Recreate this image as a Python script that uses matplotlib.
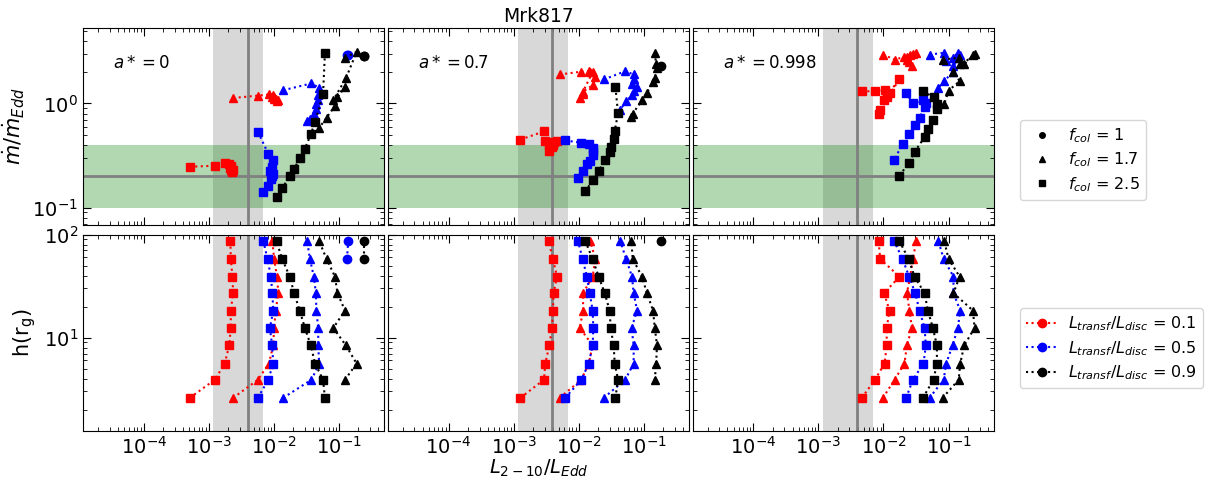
import numpy as np
import matplotlib
matplotlib.use('Agg')
import matplotlib.pyplot as plt
from matplotlib.lines import Line2D

nan = np.nan

# corona heights (r_g), same grid for every run
h_rg = [2.6, 3.9, 5.6, 8.4, 12.4, 18.3, 27, 39, 58, 86]

spins = ['0', '0.7', '0.998']
lt_ratios = [0.1, 0.5, 0.9]
lt_colors = ['red', 'blue', 'black']

# L_2-10/L_Edd and mdot for each spin; rows are L_transf/L_disc = 0.1, 0.5, 0.9
# f_col = 2.5 (squares)
a0_sq_L = [[5.1e-4, 1.24e-3, 1.76e-3, 2.06e-3, 2.18e-3, 2.18e-3, 2.37e-3, 2.31e-3, 2.18e-3, 2.15e-3],
           [5.7e-3, 8.2e-3, 9.8e-3, 9.4e-3, 8.7e-3, 9.8e-3, 9.5e-3, 9.0e-3, 8.0e-3, 6.9e-3],
           [6.1e-2, 5.7e-2, 4.3e-2, 3.7e-2, 3.0e-2, 2.5e-2, 2.05e-2, 1.76e-2, 1.34e-2, 1.10e-2]]
a0_sq_mdot = [[0.247, 0.253, 0.27, 0.26, 0.25, 0.24, 0.23, 0.22, 0.23, 0.24],
              [0.535, 0.33, 0.29, 0.245, 0.225, 0.21, 0.2, 0.187, 0.16, 0.141],
              [3.06, 1.22, 0.667, 0.505, 0.368, 0.297, 0.236, 0.201, 0.153, 0.126]]
a07_sq_L = [[1.27e-3, 2.93e-3, 3.07e-3, 3.54e-3, 3.89e-3, 4.03e-3, 4.12e-3, 4.64e-3, 4.03e-3, 3.45e-3],
            [6.2e-3, 1.1e-2, 1.43e-2, 1.64e-2, 1.68e-2, 1.64e-2, 1.48e-2, 1.34e-2, 1.15e-2, 9.8e-3],
            [3.67e-2, 4.03e-2, 3.58e-2, 3.45e-2, 3.1e-2, 3.0e-2, 2.51e-2, 2.03e-2, 1.64e-2, 1.27e-2]]
a07_sq_mdot = [[0.45, 0.54, 0.44, 0.40, 0.38, 0.42, 0.43, 0.44, 0.40, 0.35],
               [0.442, 0.42, 0.405, 0.376, 0.35, 0.32, 0.28, 0.26, 0.224, 0.194],
               [1.43, 0.81, 0.543, 0.46, 0.381, 0.344, 0.284, 0.224, 0.183, 0.144]]
a0998_sq_L = [[4.64e-3, 7.4e-3, 1.04e-2, 1.12e-2, 1.12e-2, 1.24e-2, 1.02e-2, 1.76e-2, 8.9e-3, 8.4e-3],
              [2.23e-2, 2.83e-2, 4.12e-2, 4.48e-2, 4.28e-2, 3.58e-2, 3.07e-2, 2.48e-2, 1.96e-2, 1.46e-2],
              [4.03e-2, 5.87e-2, 6.62e-2, 6.62e-2, 5.74e-2, 4.81e-2, 4.28e-2, 3.0e-2, 2.43e-2, 1.76e-2]]
a0998_sq_mdot = [[1.31, 1.31, 1.36, 1.22, 1.15, 1.27, 1.09, 1.72, 0.857, 0.796],
                 [1.27, 1.0, 1.07, 1.0, 0.92, 0.73, 0.615, 0.505, 0.405, 0.29],
                 [1.31, 1.15, 0.98, 0.876, 0.687, 0.563, 0.476, 0.342, 0.27, 0.201]]

# f_col = 1.7 (triangles)
a0_tri_L = [[2.37e-3, 5.7e-3, 8.4e-3, 9.8e-3, 1.01e-2, 1.07e-2, 1.17e-2, 1.12e-2, 1.01e-2, 9.5e-3],
            [1.39e-2, 3.79e-2, 4.98e-2, 4.81e-2, 4.81e-2, 4.5e-2, 4.43e-2, 4.12e-2, 3.58e-2, 3.26e-2],
            [nan, 0.124, 0.187, 0.128, 8.2e-2, 0.124, 9.5e-2, 8.7e-2, 6.45e-2, 4.98e-2]]
a0_tri_mdot = [[1.13, 1.19, 1.22, 1.2, 1.15, 1.1, 1.08, 1.05, 1.1, 1.15],
               [1.34, 1.56, 1.41, 1.2, 1.08, 0.98, 0.88, 0.80, 0.71, 0.68],
               [nan, 2.75, 3.13, 1.74, 1.08, 1.44, 1.15, 0.95, 0.73, 0.585]]
a07_tri_L = [[5.1e-3, 1.1e-2, 1.43e-2, 1.64e-2, 1.04e-2, 1.17e-2, 1.17e-2, 1.64e-2, 1.8e-2, 1.51e-2],
             [2.43e-2, 5.2e-2, 7.0e-2, 7.0e-2, 6.5e-2, 7.9e-2, 7.0e-2, 6.6e-2, 5.35e-2, 4.38e-2],
             [nan, 0.148, 0.155, 0.160, 0.148, 0.139, 0.112, 0.094, 0.0677, 0.0646]]
a07_tri_mdot = [[1.9, 2.02, 2.05, 2.0, 1.13, 1.22, 1.3, 1.5, 1.78, 2.0],
                [1.7, 2.04, 1.9, 1.7, 1.55, 1.45, 1.31, 1.2, 1.05, 0.875],
                [nan, 3.06, 2.37, 2.2, 1.76, 1.6, 1.27, 1.07, 0.8, 0.74]]
a0998_tri_L = [[9.8e-3, 1.48e-2, 2.1e-2, 2.29e-2, 2.73e-2, 2.51e-2, 2.29e-2, 2.57e-2, 2.83e-2, 3.19e-2],
               [5.1e-2, 8.4e-2, 9.2e-2, 0.115, 0.139, 0.151, 0.119, 0.119, 8.4e-2, 7.0e-2],
               [8.1e-2, 0.143, 0.151, 0.174, 0.251, 0.237, 0.119, 0.148, 0.1, 8.6e-2]]
a0998_tri_mdot = [[2.95, 2.64, 2.8, 2.6, 2.3, 2.5, 2.8, 2.9, 3.0, 3.06],
                  [2.95, 3.06, 2.55, 2.74, 3.06, 2.9, 2.28, 2.0, 1.64, 1.41],
                  [2.64, 2.74, 2.4, 2.37, 3.0, 2.9, 2.0, 1.64, 1.33, 0.99]]

# f_col = 1 (circles), only the largest heights stay inside the axes
a0_circ_L = [[nan] * 10,
             [nan] * 8 + [0.133, 0.139],
             [nan] * 8 + [0.243, 0.243]]
a0_circ_mdot = [[nan] * 10,
                [nan] * 8 + [2.9, 2.95],
                [nan] * 8 + [2.85, 2.85]]
a07_circ_L = [[nan] * 10, [nan] * 10, [nan] * 9 + [0.187]]
a07_circ_mdot = [[nan] * 10, [nan] * 10, [nan] * 9 + [2.28]]
a0998_circ_L = [[nan] * 10, [nan] * 10, [nan] * 10]
a0998_circ_mdot = [[nan] * 10, [nan] * 10, [nan] * 10]

runs = [
    [(a0_circ_L, a0_circ_mdot), (a0_tri_L, a0_tri_mdot), (a0_sq_L, a0_sq_mdot)],
    [(a07_circ_L, a07_circ_mdot), (a07_tri_L, a07_tri_mdot), (a07_sq_L, a07_sq_mdot)],
    [(a0998_circ_L, a0998_circ_mdot), (a0998_tri_L, a0998_tri_mdot), (a0998_sq_L, a0998_sq_mdot)],
]
fcols = ['1', '1.7', '2.5']
fcol_markers = ['o', '^', 's']

# observed source: L_2-10/L_Edd range and accretion rate range
obs_L = 3.95e-3
obs_L_lo, obs_L_hi = 1.18e-3, 6.9e-3
obs_mdot = 0.2
obs_mdot_lo, obs_mdot_hi = 0.1, 0.4

fig = plt.figure(figsize=(12.09, 4.79), dpi=100)
gs = fig.add_gridspec(2, 3, left=0.0687, right=0.8222, top=0.9415, bottom=0.1002,
                      wspace=0.0116, hspace=0.051)
axes = np.empty((2, 3), dtype=object)
for c in range(3):
    axes[0, c] = fig.add_subplot(gs[0, c], sharex=axes[0, 0], sharey=axes[0, 0] if c else None)
    axes[1, c] = fig.add_subplot(gs[1, c], sharex=axes[0, 0], sharey=axes[1, 0] if c else None)

for c in range(3):
    top = axes[0, c]
    bot = axes[1, c]
    for ax in (top, bot):
        ax.axvspan(obs_L_lo, obs_L_hi, color='gray', alpha=0.3, lw=0)
        ax.axvline(obs_L, color='gray', lw=2)
    top.axhspan(obs_mdot_lo, obs_mdot_hi, color='green', alpha=0.3, lw=0)
    top.axhline(obs_mdot, color='gray', lw=2)

    for i in range(3):
        for j in range(3):
            L, mdot = runs[c][j]
            top.plot(L[i], mdot[i], ls=':', color=lt_colors[i], marker=fcol_markers[j], ms=6)
            bot.plot(L[i], h_rg, ls=':', color=lt_colors[i], marker=fcol_markers[j], ms=6)

    top.text(0.1, 0.82, r'$a* = %s$' % spins[c], transform=top.transAxes,
             fontsize=12, va='center')

    for ax in (top, bot):
        ax.set_xscale('log')
        ax.set_yscale('log')
        ax.tick_params(which='both', direction='in', top=True, right=True, labelsize=14)
        ax.tick_params(which='major', length=6)
        ax.tick_params(which='minor', length=3)
    top.tick_params(labelbottom=False)
    if c > 0:
        top.tick_params(labelleft=False)
        bot.tick_params(labelleft=False)

axes[0, 0].set_xlim(1.17e-5, 0.5)
axes[0, 0].set_ylim(0.069, 5.3)
axes[1, 0].set_ylim(1.24, 100)
axes[1, 0].set_yticks([10, 100])

axes[0, 0].set_ylabel(r'$\dot{m}/\dot{m}_{Edd}$', fontsize=15)
axes[1, 0].set_ylabel(r'h(r$_{\rm g}$)', fontsize=15)
axes[1, 1].set_xlabel(r'$L_{2-10}/L_{Edd}$', fontsize=14, labelpad=0)
axes[0, 1].set_title('Mrk817', fontsize=13.5, pad=4)

fcol_handles = [Line2D([], [], ls='none', marker=m, color='black', ms=4) for m in fcol_markers]
fcol_labels = [r'$f_{col}$ = %s' % f for f in fcols]
fig.legend(fcol_handles, fcol_labels, loc='upper left', bbox_to_anchor=(0.837, 0.766),
           fontsize=11.5, handletextpad=0.6, labelspacing=0.35)

lt_handles = [Line2D([], [], ls=':', marker='o', color=col, ms=6) for col in lt_colors]
lt_labels = [r'$L_{transf}/L_{disc}$ = %s' % r for r in lt_ratios]
fig.legend(lt_handles, lt_labels, loc='upper left', bbox_to_anchor=(0.837, 0.373),
           fontsize=11.5, handletextpad=0.6, handlelength=2.0, labelspacing=0.35)

fig.savefig('out.png', dpi=100)
